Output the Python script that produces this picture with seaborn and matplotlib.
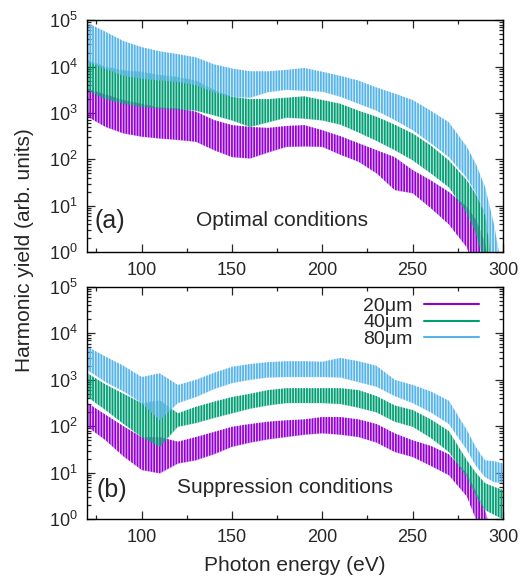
import numpy as np
import pandas as pd
import seaborn as sns
import matplotlib
matplotlib.use("Agg")
import matplotlib.pyplot as plt
from matplotlib.ticker import LogLocator, MultipleLocator, NullFormatter, LogFormatterMathtext
from matplotlib.lines import Line2D

# ---------------- data ----------------
# photon energy sample points (eV)
energy = [70, 80, 90, 100, 110, 120, 130, 140, 150, 160, 170, 180, 190, 200,
          210, 220, 230, 240, 250, 260, 270, 280, 285, 290, 295, 300]

# log10 of the harmonic yield: upper (peaks) and lower (troughs) envelopes
# panel (a) optimal conditions
a20_hi = [3.53, 3.40, 3.28, 3.20, 3.12, 3.10, 3.03, 2.85, 2.74, 2.70, 2.68, 2.72, 2.74, 2.63,
          2.50, 2.35, 2.20, 2.05, 1.77, 1.55, 1.30, 0.98, 0.70, 0.20, -1.0, -1.0]
a20_lo = [2.92, 2.70, 2.56, 2.49, 2.45, 2.42, 2.38, 2.20, 2.05, 2.02, 2.15, 2.27, 2.28, 2.27,
          2.10, 1.95, 1.70, 1.34, 1.27, 0.95, 0.60, 0.10, -0.5, -1.0, -1.0, -1.0]
a40_hi = [4.14, 4.00, 3.92, 3.89, 3.82, 3.78, 3.70, 3.50, 3.35, 3.30, 3.30, 3.33, 3.36, 3.28,
          3.20, 3.05, 2.92, 2.75, 2.56, 2.30, 1.98, 1.55, 1.25, 0.85, -0.5, -1.0]
a40_lo = [3.49, 3.30, 3.20, 3.13, 3.10, 3.08, 3.05, 2.95, 2.84, 2.70, 2.80, 2.90, 2.88, 2.84,
          2.75, 2.58, 2.40, 2.20, 1.98, 1.70, 1.40, 0.84, 0.40, -0.3, -1.0, -1.0]
a80_hi = [4.94, 4.75, 4.55, 4.42, 4.33, 4.27, 4.20, 4.05, 3.96, 3.90, 3.90, 3.93, 3.97, 3.89,
          3.80, 3.70, 3.55, 3.42, 3.28, 3.05, 2.80, 2.27, 1.90, 1.41, 0.60, -0.5]
a80_lo = [4.10, 3.95, 3.80, 3.74, 3.70, 3.67, 3.60, 3.45, 3.35, 3.33, 3.45, 3.50, 3.48, 3.46,
          3.35, 3.20, 3.05, 2.85, 2.63, 2.35, 2.05, 1.60, 1.27, 0.80, -0.5, -1.0]

# panel (b) suppression conditions
b20_hi = [2.50, 2.25, 2.00, 1.77, 1.77, 1.67, 1.77, 1.88, 1.99, 2.05, 2.10, 2.13, 2.15, 2.20,
          2.20, 2.15, 2.05, 1.85, 1.70, 1.58, 1.40, 0.99, 0.60, 0.20, -0.5, -1.0]
b20_lo = [1.99, 1.70, 1.35, 1.06, 0.99, 1.20, 1.27, 1.40, 1.56, 1.65, 1.72, 1.77, 1.82, 1.85,
          1.82, 1.77, 1.65, 1.45, 1.34, 1.15, 0.95, 0.49, 0.00, -1.0, -1.0, -1.0]
b40_hi = [3.14, 2.90, 2.70, 2.50, 2.56, 2.28, 2.42, 2.53, 2.63, 2.70, 2.78, 2.82, 2.82, 2.82,
          2.82, 2.78, 2.65, 2.45, 2.35, 2.15, 1.90, 1.27, 1.00, 0.78, 0.70, 0.63]
b40_lo = [2.63, 2.35, 2.05, 1.77, 1.56, 1.99, 2.07, 2.18, 2.28, 2.38, 2.45, 2.50, 2.50, 2.50,
          2.48, 2.40, 2.30, 2.10, 1.99, 1.75, 1.45, 0.91, 0.50, 0.20, 0.10, 0.00]
b80_hi = [3.71, 3.50, 3.30, 3.06, 3.14, 2.89, 3.00, 3.15, 3.28, 3.34, 3.38, 3.40, 3.40, 3.39,
          3.47, 3.40, 3.30, 3.00, 2.89, 2.75, 2.55, 1.92, 1.55, 1.27, 1.25, 1.20]
b80_lo = [3.21, 2.95, 2.75, 2.50, 2.13, 2.50, 2.63, 2.80, 2.93, 3.00, 3.05, 3.06, 3.06, 3.06,
          3.05, 2.95, 2.85, 2.65, 2.50, 2.30, 2.05, 1.49, 1.15, 0.91, 0.80, 0.78]

labels = ["20\u03bcm", "40\u03bcm", "80\u03bcm"]
colors = ["#9400d3", "#009e73", "#56b4e9"]

# ---------------- style ----------------
sns.set_theme(style="ticks")
plt.rcParams["font.family"] = ["Liberation Sans", "DejaVu Sans"]
plt.rcParams["mathtext.fontset"] = "custom"
plt.rcParams["mathtext.rm"] = "Liberation Sans"
plt.rcParams["mathtext.it"] = "Liberation Sans:italic"
plt.rcParams["hatch.linewidth"] = 1.25

fig = plt.figure(figsize=(5.30, 5.81), dpi=100)
ax_a = fig.add_axes([0.165, 0.566, 0.784, 0.3993])
ax_b = fig.add_axes([0.165, 0.1062, 0.784, 0.4003])

panels = [
    (ax_a, [(a20_lo, a20_hi), (a40_lo, a40_hi), (a80_lo, a80_hi)], "(a)", "Optimal conditions",
     (0.018, 0.134), (0.468, 0.138)),
    (ax_b, [(b20_lo, b20_hi), (b40_lo, b40_hi), (b80_lo, b80_hi)], "(b)", "Suppression conditions",
     (0.022, 0.126), (0.476, 0.135)),
]

for ax, series, tag, title, tag_xy, title_xy in panels:
    for (lo, hi), c, lab in zip(series, colors, labels):
        df = pd.DataFrame({"E": energy, "lo": 10.0 ** np.array(lo), "hi": 10.0 ** np.array(hi)})
        ax.fill_between(df["E"], df["lo"], df["hi"], facecolor=c, alpha=0.22, linewidth=0)
        ax.fill_between(df["E"], df["lo"], df["hi"], facecolor="none", edgecolor=c,
                        hatch="||||||", linewidth=0)
        sns.lineplot(x=df["E"], y=np.sqrt(df["lo"] * df["hi"]), ax=ax, color=c, lw=0, legend=False)
    ax.set_yscale("log")
    ax.set_xlim(70, 300)
    ax.set_ylim(1, 1e5)
    ax.xaxis.set_major_locator(MultipleLocator(50))
    ax.xaxis.set_minor_locator(MultipleLocator(25))
    ax.yaxis.set_major_locator(LogLocator(base=10, numticks=10))
    ax.yaxis.set_minor_locator(LogLocator(base=10, subs=np.arange(2, 10), numticks=20))
    ax.yaxis.set_minor_formatter(NullFormatter())
    ax.yaxis.set_major_formatter(LogFormatterMathtext())
    ax.tick_params(which="both", direction="in", top=True, right=True, labelsize=13, width=0.9)
    ax.tick_params(which="major", length=6)
    ax.tick_params(which="minor", length=3)
    ax.tick_params(axis="x", pad=7)
    ax.tick_params(axis="y", pad=7)
    for s in ax.spines.values():
        s.set_linewidth(1.0)
        s.set_color("black")
    ax.set_xlabel("")
    ax.set_ylabel("")
    ax.text(tag_xy[0], tag_xy[1], tag, transform=ax.transAxes, fontsize=18, va="center", ha="left")
    ax.text(title_xy[0], title_xy[1], title, transform=ax.transAxes, fontsize=15,
            va="center", ha="center")

handles = [Line2D([0], [0], color=c, lw=1.5) for c in colors]
ax_b.legend(handles, labels, loc="upper right", frameon=False, markerfirst=False,
            fontsize=14, handlelength=2.8, handletextpad=0.6, labelspacing=-0.05,
            borderpad=0, borderaxespad=0, bbox_to_anchor=(0.942, 0.955))

fig.text(0.047, 0.57, "Harmonic yield (arb. units)", rotation=90, ha="center", va="center",
         fontsize=15)
fig.text(0.557, 0.0275, "Photon energy (eV)", ha="center", va="center", fontsize=15)

fig.savefig("out.png", dpi=100)
